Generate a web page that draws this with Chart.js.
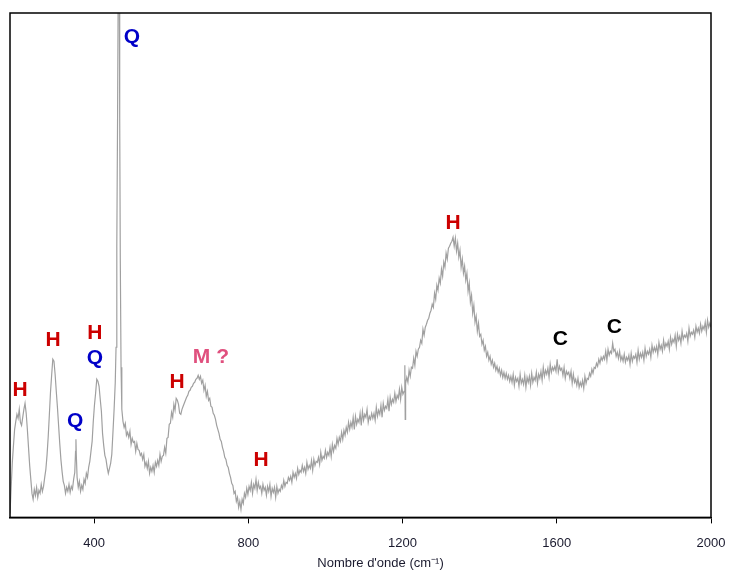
<!DOCTYPE html>
<html>
<head>
<meta charset="utf-8">
<script src="https://cdn.jsdelivr.net/npm/chart.js@4"></script>
<style>
  html, body { margin: 0; padding: 0; background: #fff; }
  #wrap { width: 731px; height: 571px; }
</style>
</head>
<body>
<div id="wrap"><canvas id="spectre"></canvas></div>
<script>
/*************** data ***************/
const wavenumbers = [
  182,185,188,191,194,197,200,203,206,209,212,215,218,221,224,227,230,233,236,239,
  242,245,248,251,254,257,260,263,266,269,272,275,278,281,284,287,290,293,296,299,
  302,305,308,311,314,317,320,323,326,329,332,335,338,341,344,347,350,352,353,354,
  356,359,362,365,368,371,374,377,380,383,386,389,392,395,398,401,404,407,410,413,
  416,419,422,425,428,431,434,437,440,443,446,449,452,455,457,459,461,463,465,466,
  467,468,470,472,475,478,481,484,487,490,493,496,499,502,505,508,511,514,517,520,
  523,526,529,532,535,538,541,544,547,550,553,556,559,562,565,568,571,574,577,580,
  583,586,589,592,595,598,601,604,607,610,613,616,619,622,625,628,631,634,637,640,
  643,646,649,652,655,658,661,664,667,670,673,676,679,682,685,688,691,694,697,700,
  703,706,709,712,715,718,721,724,727,730,733,736,739,742,745,748,751,754,757,760,
  763,766,769,772,775,778,781,784,787,790,793,796,799,802,805,808,811,814,817,820,
  823,826,829,832,835,838,841,844,847,850,853,856,859,862,865,868,871,874,877,880,
  883,886,889,892,895,898,901,904,907,910,913,916,919,922,925,928,931,934,937,940,
  943,946,949,952,955,958,961,964,967,970,973,976,979,982,985,988,991,994,997,1000,
  1003,1006,1009,1012,1015,1018,1021,1024,1027,1030,1033,1036,1039,1042,1045,1048,1051,1054,1057,1060,
  1063,1066,1069,1072,1075,1078,1081,1084,1087,1090,1093,1096,1099,1102,1105,1108,1111,1114,1117,1120,
  1123,1126,1129,1132,1135,1138,1141,1144,1147,1150,1153,1156,1159,1162,1165,1168,1171,1174,1177,1180,
  1183,1186,1189,1192,1195,1198,1201,1204,1206,1207,1208,1211,1214,1217,1220,1223,1226,1229,1232,1235,
  1238,1241,1244,1247,1250,1253,1256,1259,1262,1265,1268,1271,1274,1277,1280,1283,1286,1289,1292,1295,
  1298,1301,1304,1307,1310,1313,1316,1319,1322,1325,1328,1331,1334,1337,1340,1343,1346,1349,1352,1355,
  1358,1361,1364,1367,1370,1373,1376,1379,1382,1385,1388,1391,1394,1397,1400,1403,1406,1409,1412,1415,
  1418,1421,1424,1427,1430,1433,1436,1439,1442,1445,1448,1451,1454,1457,1460,1463,1466,1469,1472,1475,
  1478,1481,1484,1487,1490,1493,1496,1499,1502,1505,1508,1511,1514,1517,1520,1523,1526,1529,1532,1535,
  1538,1541,1544,1547,1550,1553,1556,1559,1562,1565,1568,1571,1574,1577,1580,1583,1586,1589,1592,1595,
  1598,1601,1604,1607,1610,1613,1616,1619,1622,1625,1628,1631,1634,1637,1640,1643,1646,1649,1652,1655,
  1658,1661,1664,1667,1670,1673,1676,1679,1682,1685,1688,1691,1694,1697,1700,1703,1706,1709,1712,1715,
  1718,1721,1724,1727,1730,1733,1736,1739,1742,1745,1748,1751,1754,1757,1760,1763,1766,1769,1772,1775,
  1778,1781,1784,1787,1790,1793,1796,1799,1802,1805,1808,1811,1814,1817,1820,1823,1826,1829,1832,1835,
  1838,1841,1844,1847,1850,1853,1856,1859,1862,1865,1868,1871,1874,1877,1880,1883,1886,1889,1892,1895,
  1898,1901,1904,1907,1910,1913,1916,1919,1922,1925,1928,1931,1934,1937,1940,1943,1946,1949,1952,1955,
  1958,1961,1964,1967,1970,1973,1976,1979,1982,1985,1988,1991,1994,1997,2000
];

const intensities = [
  4,30,55,72,88,96,103,99,108,95,92,100,108,114,104,88,70,52,38,24,
  18,28,22,30,20,27,24,33,26,31,40,48,62,80,102,125,142,158,156,143,
  126,110,92,74,58,46,36,32,24,30,26,33,25,31,28,38,45,66,78,62,
  40,30,36,26,32,28,38,34,44,40,50,56,66,76,96,112,124,138,136,131,
  118,106,84,72,62,58,50,44,49,54,63,85,108,135,170,270,400,560,620,560,
  400,260,150,108,96,90,94,82,85,80,86,73,79,75,76,66,74,68,67,62,
  64,58,63,51,55,49,56,44,50,46,52,45,55,51,57,52,63,56,61,62,
  70,64,79,80,93,94,105,100,113,107,119,117,113,104,103,108,111,114,117,120,
  122,126,127,130,131,134,135,138,139,142,138,141,134,137,127,132,121,126,117,119,
  111,110,104,102,98,92,88,84,78,76,70,66,60,58,52,50,44,40,34,32,
  24,26,16,20,10,16,8,18,14,24,20,29,23,31,27,35,24,33,29,38,
  27,35,29,31,24,33,27,30,22,31,26,33,21,29,25,30,20,31,24,28,
  26,32,29,37,31,35,34,40,37,41,35,45,40,44,39,49,43,47,45,52,
  46,50,44,55,48,52,49,57,47,58,52,56,55,60,53,65,57,61,59,67,
  60,65,62,70,61,73,66,72,69,79,73,80,76,85,78,87,82,90,85,95,
  88,95,90,100,88,101,93,98,95,104,92,106,97,103,100,108,95,101,98,104,
  99,104,97,110,101,107,103,112,100,114,107,111,109,118,106,120,113,118,115,124,
  116,122,119,128,118,130,123,126,152,98,134,140,135,147,141,150,149,159,152,166,
  161,168,170,177,174,188,182,190,193,197,199,204,207,213,210,224,218,232,227,239,
  234,248,241,255,250,264,258,269,271,274,276,280,271,279,266,274,260,267,250,258,
  244,251,237,244,226,234,215,222,204,212,195,201,186,194,181,183,173,177,167,171,
  161,165,157,161,153,157,150,154,147,151,145,149,142,147,140,145,139,144,138,142,
  136,141,135,143,132,140,136,139,131,143,134,138,133,142,130,140,135,141,132,144,
  135,140,137,145,134,143,139,146,137,150,141,147,143,149,140,153,145,150,147,151,
  146,158,145,151,147,149,142,150,139,146,143,145,139,146,134,143,135,138,132,139,
  130,135,131,137,129,141,134,139,138,144,141,148,144,150,149,154,151,158,154,160,
  157,161,158,166,157,168,162,166,164,174,166,168,161,165,159,166,157,161,156,163,
  155,160,157,162,153,164,156,161,159,163,155,167,158,164,160,165,157,169,161,166,
  163,168,160,172,165,170,166,171,163,175,168,172,166,177,169,174,171,176,168,180,
  173,178,175,182,171,183,177,181,174,186,178,182,180,184,176,189,181,185,183,187,
  180,191,185,189,184,193,186,191,188,195,185,197,190,194,190
];

const xTicks = [400, 800, 1200, 1600, 2000];

// band assignments (H, Q, M, C) placed above their peaks
const bandLabels = ['Q', 'H', 'H', 'H', 'Q', 'Q', 'H', 'M ?', 'H', 'H', 'C', 'C'];
const bandWn     = [498, 208, 294, 402, 402, 351, 615, 703, 833, 1331, 1609, 1749];
const bandInt    = [480, 127, 177, 184, 159, 96, 135, 160, 57, 294, 178, 190];

const bandColors = { H: '#cc0000', Q: '#0000c8', M: '#e0507e', C: '#000000' };

/*************** plugins ***************/
const frame = {
  id: 'frame',
  afterDraw(chart) {
    const { ctx, chartArea: a } = chart;
    ctx.save();
    ctx.strokeStyle = '#000';
    ctx.lineWidth = 1.5;
    ctx.strokeRect(a.left, a.top, a.right - a.left, a.bottom - a.top);
    ctx.restore();
  }
};

const bands = {
  id: 'bands',
  afterDraw(chart) {
    const { ctx, scales } = chart;
    ctx.save();
    ctx.font = 'bold 21px "Liberation Sans", Arial, sans-serif';
    ctx.textAlign = 'center';
    ctx.textBaseline = 'middle';
    for (let i = 0; i < bandLabels.length; i++) {
      ctx.fillStyle = bandColors[bandLabels[i][0]];
      ctx.fillText(bandLabels[i], scales.x.getPixelForValue(bandWn[i]), scales.y.getPixelForValue(bandInt[i]));
    }
    // axis title
    const a = chart.chartArea;
    ctx.font = '13px "Liberation Sans", Arial, sans-serif';
    ctx.fillStyle = '#1a1a2e';
    ctx.fillText("Nombre d'onde (cm⁻¹)", (a.left + a.right) / 2 + 20, 563);
    ctx.restore();
  }
};

/*************** chart ***************/
const points = wavenumbers.map((w, i) => ({ x: w, y: intensities[i] }));

new Chart(document.getElementById('spectre'), {
  type: 'line',
  data: {
    datasets: [{
      data: points,
      borderColor: '#a0a0a0',
      borderWidth: 1.2,
      pointRadius: 0,
      tension: 0
    }]
  },
  options: {
    responsive: true,
    maintainAspectRatio: false,
    animation: false,
    layout: { padding: { left: 10, top: 13, right: 20, bottom: 8 } },
    plugins: { legend: { display: false }, tooltip: { enabled: false } },
    scales: {
      x: {
        type: 'linear',
        min: 182,
        max: 2000,
        afterBuildTicks: axis => { axis.ticks = xTicks.map(v => ({ value: v })); },
        afterFit: axis => { axis.paddingRight = 0; axis.paddingLeft = 0; },
        grid: { drawOnChartArea: false, color: '#000', tickLength: 6 },
        border: { color: '#000', width: 1.5 },
        ticks: {
          padding: 12,
          maxRotation: 0,
          color: '#1a1a2e',
          callback: v => String(v),
          font: { family: '"Liberation Sans", Arial, sans-serif', size: 13 }
        }
      },
      y: {
        display: false,
        min: 0,
        max: 504
      }
    }
  },
  plugins: [frame, bands]
});
</script>
</body>
</html>
